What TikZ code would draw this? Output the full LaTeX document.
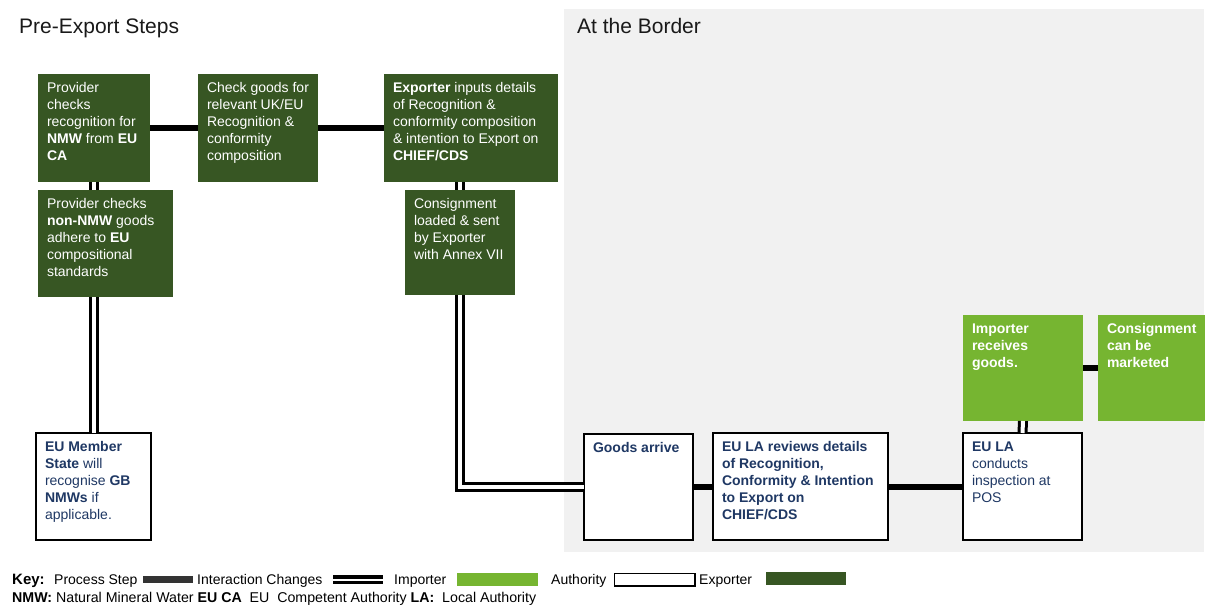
\documentclass[tikz,border=0pt]{standalone}
\usepackage{fontspec}
\setmainfont{Liberation Sans}
\definecolor{dkgreen}{HTML}{375623}
\definecolor{ltgreen}{HTML}{76B531}
\definecolor{navy}{HTML}{1F3864}
\definecolor{bggrey}{HTML}{F1F1F1}
\definecolor{keygrey}{HTML}{333333}
\newcommand\btext[3]{\parbox[c][#2pt][t]{#1pt}{\raggedright\fontsize{14}{17}\selectfont\strut#3}}
\tikzset{
  stepbox/.style={anchor=north west, inner xsep=9pt, inner ysep=7pt, outer sep=0pt, rectangle},
  exbox/.style={stepbox, fill=dkgreen, text=white},
  imbox/.style={stepbox, fill=ltgreen, text=white, font=\bfseries},
  authbox/.style={stepbox, fill=white, draw=black, line width=2pt, text=navy},
  proc/.style={draw=black, line width=6pt},
  inter/.style={draw=black, line width=3pt, double=white, double distance=4pt},
  title/.style={anchor=base west, font=\fontsize{21}{24}\selectfont, text=black!90, inner sep=0pt},
  keytext/.style={anchor=base west, font=\fontsize{14}{16}\selectfont, inner sep=0pt},
}
\begin{document}
\begin{tikzpicture}[x=1pt,y=-1pt]
\useasboundingbox (0,0) rectangle (1205,605);
\fill[bggrey] (564,9) rectangle (1204,552);
\node[title] (t1) at (19,34) {Pre-Export Steps};
\node[title] (t2) at (577,34) {At the Border};

% Exporter boxes
\node[exbox] (A) at (38,74) {\btext{94}{94}{Provider\\checks\\recognition for\\\textbf{NMW} from \textbf{EU}\\\textbf{CA}}};
\node[exbox] (B) at (198,74) {\btext{102}{94}{Check goods for\\relevant UK/EU\\Recognition \&\\conformity\\composition}};
\node[exbox] (C) at (384,74) {\btext{156}{94}{\textbf{Exporter} inputs details\\of Recognition \&\\conformity composition\\\& intention to Export on\\\textbf{CHIEF/CDS}}};
\node[exbox] (D) at (38,190) {\btext{117}{93}{Provider checks\\\textbf{non-NMW} goods\\adhere to \textbf{EU}\\compositional\\standards}};
\node[exbox] (E) at (405,190) {\btext{92}{91}{Consignment\\loaded \& sent\\by Exporter\\with Annex VII}};

% Authority boxes
\node[authbox] (F) at (36,433) {\btext{97}{93}{\textbf{EU Member}\\\textbf{State} will\\recognise \textbf{GB}\\\textbf{NMWs} if\\applicable.}};
\node[authbox] (G) at (584,434) {\btext{91}{92}{\textbf{Goods arrive}}};
\node[authbox] (H) at (713,433) {\btext{157}{93}{\textbf{EU LA reviews details}\\\textbf{of Recognition,}\\\textbf{Conformity \& Intention}\\\textbf{to Export on}\\\textbf{CHIEF/CDS}}};
\node[authbox] (I) at (963,433) {\btext{101}{93}{\textbf{EU LA}\\conducts\\inspection at\\POS}};

% Importer boxes
\node[imbox] (J) at (963,315) {\btext{102}{92}{Importer\\receives\\goods.}};
\node[imbox] (K) at (1098,315) {\btext{92}{92}{Consignment\\can be\\marketed}};

% connectors
\draw[proc] (A.east) -- (B.west);
\draw[proc] (B.east) -- (C.west);
\draw[inter] (A.south) -- (A.south |- D.north);
\draw[inter] (A.south |- D.south) -- (A.south |- F.north);
\draw[inter] (E.north |- C.south) -- (E.north);
\draw[inter] (E.south) |- (G.west);
\draw[proc] (G.east) -- (G.east -| H.west);
\draw[proc] (H.east |- G.east) -- (G.east -| I.west);
\draw[inter] (I.north) -- (J.south);
\draw[proc] (J.east) -- (K.west);

% key
\node[keytext, font=\fontsize{15}{16}\selectfont\bfseries] (k0) at (12,584) {Key:};
\node[keytext] (k1) at (54,584) {Process Step};
\fill[keygrey] (143,576) rectangle (193,583);
\node[keytext] (k2) at (197,584) {Interaction Changes};
\coordinate (d1) at (333,579.5);
\coordinate (d2) at (383,579.5);
\draw[draw=black, line width=3.5pt, double=white, double distance=2pt] (d1) -- (d2);
\node[keytext] (k3) at (394,584) {Importer};
\fill[ltgreen] (457,573) rectangle (538,586);
\node[keytext] (k4) at (551,584) {Authority};
\draw[black, line width=1.5pt, fill=white] (614.5,573.5) rectangle (695,586);
\node[keytext] (k5) at (699,584) {Exporter};
\fill[dkgreen] (766,572) rectangle (846,585);
\node[keytext, font=\fontsize{14.2}{15}\selectfont] (k6) at (12,602) {\textbf{NMW:} Natural Mineral Water \textbf{EU CA}\ \ EU\ \ Competent Authority \textbf{LA:}\ \ Local Authority};
\end{tikzpicture}
\end{document}
